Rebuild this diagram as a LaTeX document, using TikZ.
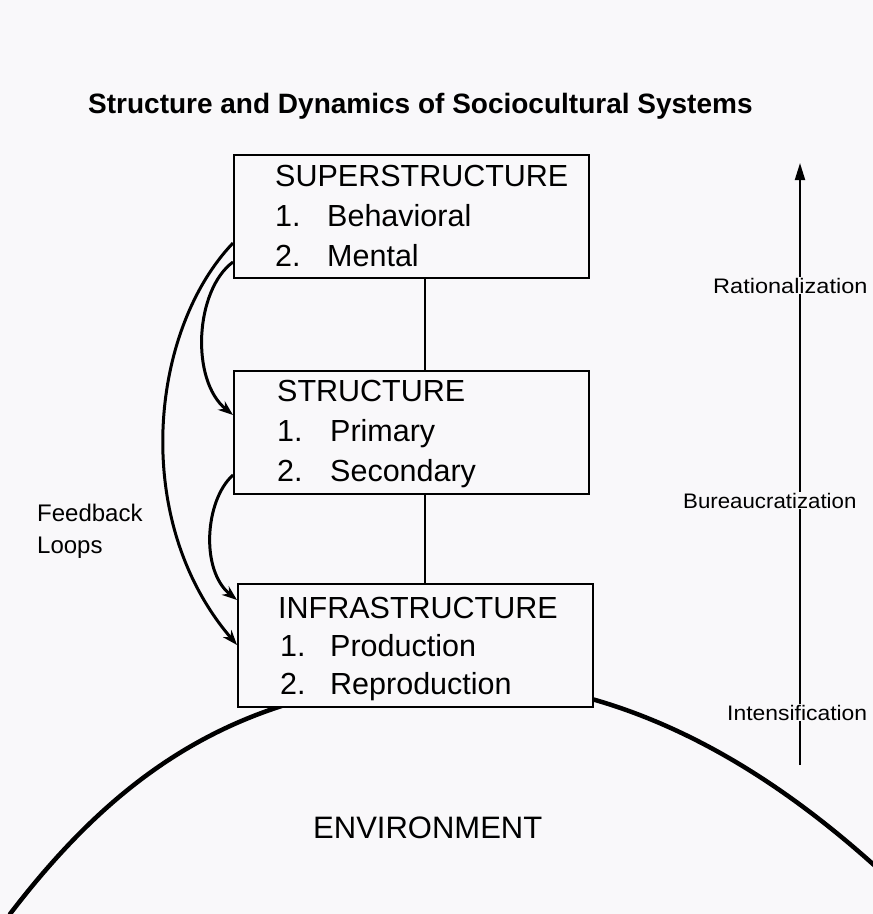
\documentclass[tikz,border=0pt]{standalone}
\usepackage{fontspec}
\setmainfont{Liberation Sans}
\usetikzlibrary{arrows.meta}
\definecolor{paper}{RGB}{249,248,250}
\begin{document}
\begin{tikzpicture}[x=1pt,y=-1pt,
  boxst/.style={draw, line width=1.6pt, fill=paper, minimum width=355pt, minimum height=123pt, anchor=north west, inner sep=0pt},
  btxt/.style={anchor=base west, inner sep=0pt, font=\fontsize{30.5}{36}\selectfont},
  side/.style={anchor=base west, inner sep=1pt, fill=paper, font=\fontsize{21}{25}\selectfont},
  fbl/.style={anchor=base west, inner sep=0pt, font=\fontsize{24}{28}\selectfont},
  fb/.style={-{Stealth[length=15pt,width=11pt]}, line width=3pt},
  link/.style={line width=2.6pt}]
\path[fill=paper] (0,0) rectangle (873,914);
\useasboundingbox (0,0) rectangle (873,914);

% environment curve
\draw[line width=4.5pt, line cap=round] (10,914) .. controls (120,770) and (240,690) .. (430,680) .. controls (610,672) and (760,760) .. (885,875);

% title
\node[anchor=base west, inner sep=0pt, font=\fontsize{28}{32}\selectfont\bfseries] (title) at (88,113) {Structure and Dynamics of Sociocultural Systems};

% boxes
\node[boxst] (sup) at (233,154) {};
\node[boxst] (str) at (233,370) {};
\node[boxst] (inf) at (237,583) {};

\node[btxt] (supt) at (275,186) {SUPERSTRUCTURE};
\node[btxt] (sup1) at (275,226) {1.};
\node[btxt] (sup1t) at (327,226) {Behavioral};
\node[btxt] (sup2) at (275,266) {2.};
\node[btxt] (sup2t) at (327,266) {Mental};

\node[btxt] (strt) at (277,401) {STRUCTURE};
\node[btxt] (str1) at (277,441) {1.};
\node[btxt] (str1t) at (330,441) {Primary};
\node[btxt] (str2) at (277,481) {2.};
\node[btxt] (str2t) at (330,481) {Secondary};

\node[btxt] (inft) at (278,618) {INFRASTRUCTURE};
\node[btxt] (inf1) at (280,656) {1.};
\node[btxt] (inf1t) at (330,656) {Production};
\node[btxt] (inf2) at (280,694) {2.};
\node[btxt] (inf2t) at (330,694) {Reproduction};

% vertical links
\coordinate (vx) at (425,0);
\draw[link] (sup.south -| vx) -- (str.north -| vx);
\draw[link] (str.south -| vx) -- (inf.north -| vx);

% feedback loops
\draw[fb] (sup.west |- 0,243) .. controls (150,330) and (130,520) .. (inf.west |- 0,645);
\draw[fb] (sup.west |- 0,262) .. controls (195,290) and (190,380) .. (str.west |- 0,415);
\draw[fb] (str.west |- 0,475) .. controls (205,500) and (200,570) .. (inf.west |- 0,600);

\node[fbl] (fb1) at (37,521) {Feedback};
\node[fbl] (fb2) at (37,553) {Loops};

% right arrow
\coordinate (ab) at (800,765);
\coordinate (at) at (800,163);
\draw[-{Triangle[length=17pt,width=10pt]}, line width=2pt] (ab) -- (at);
\node[side] (rat) at (712,293) {\scalebox{1.12}[1]{Rationalization}};
\node[side] (bur) at (682,508) {\scalebox{1.06}[1]{Bureaucratization}};
\node[side] (int) at (726,720) {\scalebox{1.09}[1]{Intensification}};

% environment
\node[anchor=base west, inner sep=0pt, font=\fontsize{31}{35}\selectfont] (env) at (313,838) {ENVIRONMENT};
\end{tikzpicture}
\end{document}
